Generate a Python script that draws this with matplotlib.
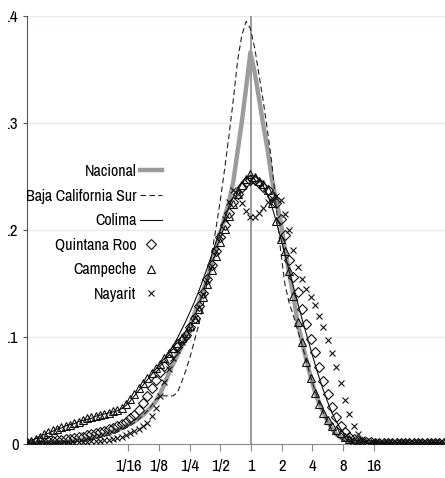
import numpy as np
import matplotlib
matplotlib.use('Agg')
import matplotlib.pyplot as plt

plt.rcParams['font.family'] = ['Archivo Narrow', 'Roboto Condensed', 'DejaVu Sans']

# Evaluation grid of the densities, in log2 of the ratio (0 = ratio 1).
LOG2_GRID = np.round(np.arange(-7.30, 6.30, 0.14), 2)

TICK_POS = [-4, -3, -2, -1, 0, 1, 2, 3, 4]
TICK_LABELS = ['1/16', '1/8', '1/4', '1/2', '1', '2', '4', '8', '16']
Y_TICKS = [0, 0.1, 0.2, 0.3, 0.4]
Y_LABELS = ['0', '.1', '.2', '.3', '.4']

NACIONAL = [
    0.000, 0.000, 0.000, 0.001, 0.001, 0.001, 0.001, 0.002, 0.002, 0.002,
    0.003, 0.003, 0.004, 0.004, 0.005, 0.006, 0.007, 0.008, 0.009, 0.010,
    0.012, 0.013, 0.015, 0.017, 0.019, 0.021, 0.024, 0.027, 0.031, 0.035,
    0.040, 0.047, 0.056, 0.066, 0.075, 0.083, 0.091, 0.101, 0.112, 0.122,
    0.132, 0.143, 0.155, 0.169, 0.183, 0.197, 0.212, 0.226, 0.245, 0.273,
    0.301, 0.333, 0.366, 0.347, 0.323, 0.298, 0.275, 0.247, 0.228, 0.209,
    0.183, 0.160, 0.139, 0.113, 0.096, 0.079, 0.063, 0.049, 0.038, 0.029,
    0.021, 0.014, 0.009, 0.006, 0.004, 0.003, 0.002, 0.002, 0.001, 0.001,
    0.001, 0.001, 0.001, 0.001, 0.000, 0.000, 0.000, 0.000, 0.000, 0.000,
    0.000, 0.000, 0.000, 0.000, 0.000, 0.000, 0.000, 0.000,
]

BAJA_CALIFORNIA_SUR = [
    0.000, 0.000, 0.000, 0.000, 0.001, 0.001, 0.001, 0.001, 0.001, 0.002,
    0.002, 0.002, 0.003, 0.003, 0.004, 0.004, 0.005, 0.006, 0.007, 0.008,
    0.009, 0.011, 0.013, 0.015, 0.017, 0.020, 0.023, 0.027, 0.031, 0.036,
    0.042, 0.045, 0.045, 0.045, 0.045, 0.048, 0.058, 0.069, 0.082, 0.097,
    0.112, 0.130, 0.153, 0.178, 0.202, 0.228, 0.257, 0.288, 0.321, 0.358,
    0.382, 0.395, 0.388, 0.370, 0.345, 0.320, 0.292, 0.262, 0.222, 0.182,
    0.150, 0.132, 0.120, 0.106, 0.093, 0.078, 0.063, 0.050, 0.039, 0.029,
    0.020, 0.013, 0.008, 0.005, 0.003, 0.002, 0.001, 0.001, 0.001, 0.000,
    0.000, 0.000, 0.000, 0.000, 0.000, 0.000, 0.000, 0.000, 0.000, 0.000,
    0.000, 0.000, 0.000, 0.000, 0.000, 0.000, 0.000, 0.000,
]

COLIMA = [
    0.001, 0.003, 0.005, 0.007, 0.009, 0.010, 0.012, 0.014, 0.015, 0.017,
    0.018, 0.019, 0.021, 0.022, 0.023, 0.024, 0.026, 0.027, 0.028, 0.029,
    0.030, 0.031, 0.033, 0.036, 0.040, 0.045, 0.050, 0.055, 0.060, 0.065,
    0.070, 0.075, 0.080, 0.086, 0.092, 0.099, 0.107, 0.115, 0.124, 0.133,
    0.143, 0.154, 0.165, 0.177, 0.189, 0.200, 0.211, 0.222, 0.231, 0.239,
    0.245, 0.249, 0.251, 0.250, 0.247, 0.241, 0.233, 0.222, 0.208, 0.193,
    0.178, 0.162, 0.147, 0.132, 0.117, 0.103, 0.089, 0.075, 0.062, 0.050,
    0.039, 0.029, 0.021, 0.014, 0.009, 0.006, 0.004, 0.003, 0.002, 0.001,
    0.001, 0.001, 0.001, 0.001, 0.000, 0.000, 0.000, 0.000, 0.000, 0.000,
    0.000, 0.000, 0.000, 0.000, 0.000, 0.000, 0.000, 0.000,
]

QUINTANA_ROO = [
    0.001, 0.001, 0.002, 0.002, 0.002, 0.003, 0.003, 0.004, 0.004, 0.005,
    0.005, 0.006, 0.007, 0.007, 0.008, 0.009, 0.010, 0.011, 0.012, 0.014,
    0.015, 0.017, 0.019, 0.021, 0.024, 0.027, 0.032, 0.038, 0.045, 0.052,
    0.060, 0.067, 0.073, 0.079, 0.085, 0.091, 0.097, 0.102, 0.109, 0.118,
    0.129, 0.141, 0.154, 0.167, 0.180, 0.193, 0.205, 0.216, 0.226, 0.234,
    0.240, 0.245, 0.247, 0.247, 0.244, 0.240, 0.237, 0.232, 0.225, 0.210,
    0.195, 0.172, 0.156, 0.142, 0.126, 0.112, 0.098, 0.086, 0.072, 0.059,
    0.047, 0.035, 0.025, 0.017, 0.011, 0.007, 0.005, 0.003, 0.002, 0.002,
    0.002, 0.001, 0.001, 0.001, 0.001, 0.001, 0.001, 0.001, 0.001, 0.001,
    0.001, 0.001, 0.001, 0.001, 0.001, 0.001, 0.001, 0.001,
]

CAMPECHE = [
    0.001, 0.003, 0.005, 0.007, 0.009, 0.011, 0.013, 0.014, 0.016, 0.017,
    0.018, 0.020, 0.021, 0.022, 0.024, 0.025, 0.026, 0.027, 0.028, 0.029,
    0.031, 0.032, 0.034, 0.037, 0.042, 0.047, 0.052, 0.057, 0.062, 0.066,
    0.071, 0.075, 0.080, 0.085, 0.090, 0.094, 0.099, 0.104, 0.110, 0.117,
    0.126, 0.137, 0.150, 0.163, 0.176, 0.189, 0.201, 0.213, 0.224, 0.234,
    0.242, 0.248, 0.252, 0.250, 0.246, 0.243, 0.237, 0.225, 0.208, 0.192,
    0.180, 0.162, 0.138, 0.114, 0.095, 0.077, 0.062, 0.048, 0.037, 0.029,
    0.022, 0.017, 0.013, 0.010, 0.007, 0.005, 0.003, 0.002, 0.002, 0.001,
    0.001, 0.001, 0.001, 0.001, 0.001, 0.001, 0.001, 0.001, 0.001, 0.001,
    0.001, 0.001, 0.001, 0.001, 0.001, 0.001, 0.001, 0.001,
]

NAYARIT = [
    0.000, 0.000, 0.000, 0.000, 0.000, 0.001, 0.001, 0.001, 0.001, 0.001,
    0.001, 0.001, 0.002, 0.002, 0.002, 0.003, 0.003, 0.003, 0.004, 0.004,
    0.005, 0.006, 0.007, 0.008, 0.010, 0.012, 0.014, 0.017, 0.020, 0.026,
    0.034, 0.045, 0.058, 0.070, 0.080, 0.088, 0.095, 0.101, 0.108, 0.118,
    0.128, 0.140, 0.153, 0.166, 0.180, 0.194, 0.210, 0.226, 0.237, 0.234,
    0.225, 0.218, 0.212, 0.212, 0.216, 0.221, 0.226, 0.230, 0.232, 0.228,
    0.215, 0.200, 0.181, 0.165, 0.154, 0.145, 0.137, 0.130, 0.120, 0.109,
    0.097, 0.085, 0.072, 0.057, 0.041, 0.028, 0.017, 0.009, 0.005, 0.003,
    0.002, 0.001, 0.001, 0.001, 0.001, 0.001, 0.001, 0.001, 0.001, 0.001,
    0.001, 0.001, 0.001, 0.001, 0.001, 0.001, 0.001, 0.001,
]


def main():
    fig = plt.figure(figsize=(4.45, 4.78), dpi=100)
    ax = fig.add_axes([27 / 445, 34 / 478, 418 / 445, 428 / 478])

    ax.axvline(0, color='#9a9a9a', lw=1.4, zorder=1)

    ax.plot(LOG2_GRID, NACIONAL, color='#9c9c9c', lw=3.2, label='Nacional', zorder=2)
    ax.plot(LOG2_GRID, BAJA_CALIFORNIA_SUR, color='#222222', lw=0.8,
            dashes=(5, 3), label='Baja California Sur', zorder=3)
    ax.plot(LOG2_GRID, COLIMA, color='#111111', lw=0.8, label='Colima', zorder=3)
    mk = dict(ls='none', mfc='none', mec='#111111', mew=0.8, zorder=4)
    ax.plot(LOG2_GRID, QUINTANA_ROO, marker='D', ms=4.8, label='Quintana Roo', **mk)
    ax.plot(LOG2_GRID, CAMPECHE, marker='^', ms=5.8, label='Campeche', **mk)
    ax.plot(LOG2_GRID, NAYARIT, marker='x', ms=5, label='Nayarit', **mk)

    ax.set_xlim(-7.30, 6.32)
    ax.set_ylim(0, 0.4)
    ax.set_xticks(TICK_POS)
    ax.set_xticklabels(TICK_LABELS)
    ax.set_yticks(Y_TICKS)
    ax.set_yticklabels(Y_LABELS)

    for y in Y_TICKS[1:]:
        ax.axhline(y, color='#e3ecef', lw=1.0, zorder=0)

    for side in ('top', 'right'):
        ax.spines[side].set_visible(False)
    ax.spines['left'].set_color('#555555')
    ax.spines['bottom'].set_color('#8a8a8a')
    ax.tick_params(axis='x', length=5, color='#8a8a8a', pad=6, labelsize=12)
    ax.tick_params(axis='y', length=3, color='#555555', pad=3, labelsize=12)

    ax.legend(loc='upper right', bbox_to_anchor=(170 / 445, 1 - 156 / 478),
              bbox_transform=fig.transFigure, frameon=False, markerfirst=False,
              fontsize=11.5, handlelength=1.35, handletextpad=0.25,
              labelspacing=0.6, borderpad=0, numpoints=1)

    fig.savefig('out.png', dpi=100)
    plt.close(fig)


if __name__ == '__main__':
    main()
